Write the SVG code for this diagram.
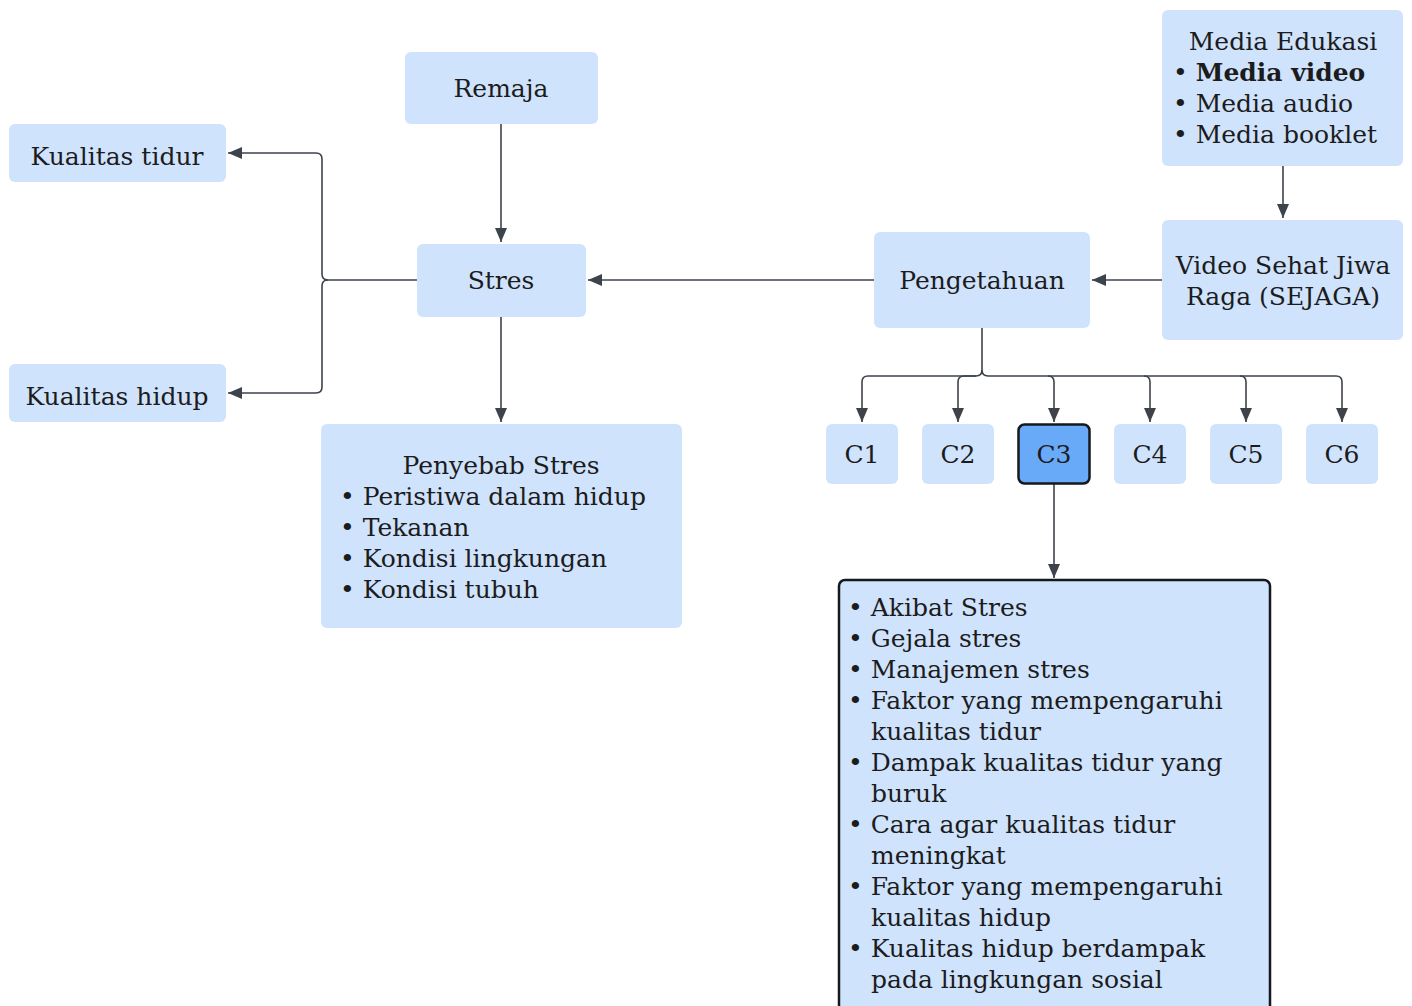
<svg xmlns="http://www.w3.org/2000/svg" width="1412" height="1006" viewBox="0 0 1412 1006">
<defs>
<style>
.n{fill:#d0e3fc;}
.t{font-family:"DejaVu Serif","Liberation Serif",serif;font-size:25px;fill:#1c1c1c;}
.m{text-anchor:middle;}
.c{fill:none;stroke:#3d434b;stroke-width:1.6;}
</style>
<marker id="a" viewBox="0 0 14 12" refX="14" refY="6" markerWidth="14" markerHeight="12" markerUnits="userSpaceOnUse" orient="auto">
<path d="M0,0 L14,6 L0,12 Z" fill="#3d434b"/>
</marker>
</defs>
<rect width="1412" height="1006" fill="#ffffff"/>
<g id="connectors">
<path class="c" d="M501,124 V242" marker-end="url(#a)"/>
<path class="c" d="M501,317 V422" marker-end="url(#a)"/>
<path class="c" d="M417,280 H328 Q322,280 322,274 V159 Q322,153 316,153 H228" marker-end="url(#a)"/>
<path class="c" d="M328,280 Q322,280 322,286 V387 Q322,393 316,393 H228" marker-end="url(#a)"/>
<path class="c" d="M874,280 H588" marker-end="url(#a)"/>
<path class="c" d="M1162,280 H1092" marker-end="url(#a)"/>
<path class="c" d="M1283,166 V218" marker-end="url(#a)"/>
<path class="c" d="M982,328 V370 Q982,376 976,376 H868 Q862,376 862,382 V422" marker-end="url(#a)"/>
<path class="c" d="M976,376 H964 Q958,376 958,382 V422" marker-end="url(#a)"/>
<path class="c" d="M982,370 Q982,376 988,376 H1336 Q1342,376 1342,382 V422" marker-end="url(#a)"/>
<path class="c" d="M1048,376 Q1054,376 1054,382 V422" marker-end="url(#a)"/>
<path class="c" d="M1144,376 Q1150,376 1150,382 V422" marker-end="url(#a)"/>
<path class="c" d="M1240,376 Q1246,376 1246,382 V422" marker-end="url(#a)"/>
<path class="c" d="M1054,484 V578" marker-end="url(#a)"/>
</g>
<g id="remaja"><rect class="n" x="405" y="52" width="193" height="72" rx="6"/><text class="t m" x="501" y="97">Remaja</text></g>
<g id="kualitas-tidur"><rect class="n" x="9" y="124" width="217" height="58" rx="6"/><text class="t m" x="117" y="165">Kualitas tidur</text></g>
<g id="kualitas-hidup"><rect class="n" x="9" y="364" width="217" height="58" rx="6"/><text class="t m" x="117" y="405">Kualitas hidup</text></g>
<g id="stres"><rect class="n" x="417" y="244" width="169" height="73" rx="6"/><text class="t m" x="501" y="289">Stres</text></g>
<g id="penyebab"><rect class="n" x="321" y="424" width="361" height="204" rx="6"/>
<text class="t m" x="501" y="474">Penyebab Stres</text>
<text class="t" x="340" y="505">• Peristiwa dalam hidup</text>
<text class="t" x="340" y="536">• Tekanan</text>
<text class="t" x="340" y="567">• Kondisi lingkungan</text>
<text class="t" x="340" y="598">• Kondisi tubuh</text>
</g>
<g id="pengetahuan"><rect class="n" x="874" y="232" width="216" height="96" rx="6"/><text class="t m" x="982" y="289">Pengetahuan</text></g>
<g id="media"><rect class="n" x="1162" y="10" width="241" height="156" rx="6"/>
<text class="t m" x="1283" y="50">Media Edukasi</text>
<text class="t" x="1173" y="81">• <tspan font-weight="bold">Media video</tspan></text>
<text class="t" x="1173" y="112">• Media audio</text>
<text class="t" x="1173" y="143">• Media booklet</text>
</g>
<g id="video"><rect class="n" x="1162" y="220" width="241" height="120" rx="6"/>
<text class="t m" x="1283" y="274">Video Sehat Jiwa</text>
<text class="t m" x="1283" y="305">Raga (SEJAGA)</text>
</g>
<g id="c1"><rect class="n" x="826" y="424" width="72" height="60" rx="6"/><text class="t m" x="862" y="463">C1</text></g>
<g id="c2"><rect class="n" x="922" y="424" width="72" height="60" rx="6"/><text class="t m" x="958" y="463">C2</text></g>
<g id="c3"><rect x="1018.5" y="424.5" width="71" height="59" rx="6" fill="#69aaf8" stroke="#15191e" stroke-width="2.5"/><text class="t m" x="1054" y="463">C3</text></g>
<g id="c4"><rect class="n" x="1114" y="424" width="72" height="60" rx="6"/><text class="t m" x="1150" y="463">C4</text></g>
<g id="c5"><rect class="n" x="1210" y="424" width="72" height="60" rx="6"/><text class="t m" x="1246" y="463">C5</text></g>
<g id="c6"><rect class="n" x="1306" y="424" width="72" height="60" rx="6"/><text class="t m" x="1342" y="463">C6</text></g>
<g id="c3-detail"><rect x="839" y="580" width="431" height="440" rx="6" fill="#d0e3fc" stroke="#15191e" stroke-width="2.5"/>
<text class="t" x="848" y="616">• Akibat Stres</text>
<text class="t" x="848" y="647">• Gejala stres</text>
<text class="t" x="848" y="678">• Manajemen stres</text>
<text class="t" x="848" y="709">• Faktor yang mempengaruhi</text>
<text class="t" x="871" y="740">kualitas tidur</text>
<text class="t" x="848" y="771">• Dampak kualitas tidur yang</text>
<text class="t" x="871" y="802">buruk</text>
<text class="t" x="848" y="833">• Cara agar kualitas tidur</text>
<text class="t" x="871" y="864">meningkat</text>
<text class="t" x="848" y="895">• Faktor yang mempengaruhi</text>
<text class="t" x="871" y="926">kualitas hidup</text>
<text class="t" x="848" y="957">• Kualitas hidup berdampak</text>
<text class="t" x="871" y="988">pada lingkungan sosial</text>
</g>
</svg>
